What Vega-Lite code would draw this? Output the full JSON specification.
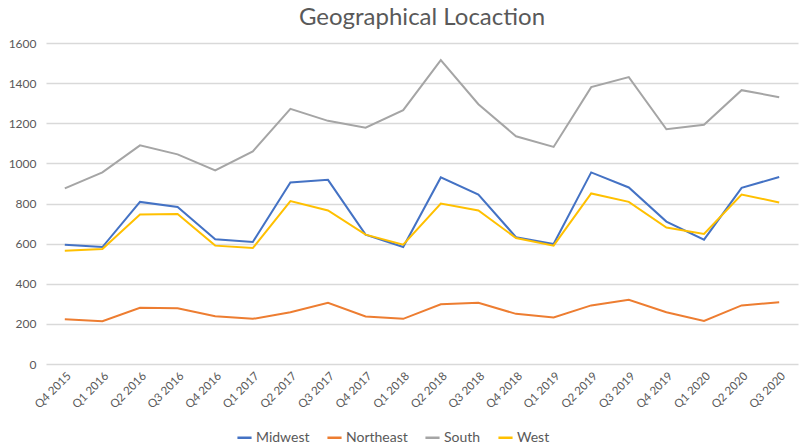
{
  "$schema": "https://vega.github.io/schema/vega-lite/v6.json",
  "width": 800,
  "height": 445,
  "autosize": {"type": "fit", "contains": "padding"},
  "padding": {"left": 8, "right": 2, "top": 6, "bottom": 34},
  "title": {"text": "Geographical Locaction", "font": "Lato", "fontSize": 24, "fontWeight": "normal", "color": "#595959", "offset": 7},
  "config": {"view": {"stroke": null}, "font": "Lato"},
  "data": {"values": [
    {"q":"Q4 2015","Midwest":595,"Northeast":223,"South":875,"West":565},
    {"q":"Q1 2016","Midwest":583,"Northeast":213,"South":955,"West":573},
    {"q":"Q2 2016","Midwest":808,"Northeast":280,"South":1090,"West":745},
    {"q":"Q3 2016","Midwest":783,"Northeast":278,"South":1045,"West":748},
    {"q":"Q4 2016","Midwest":622,"Northeast":238,"South":965,"West":590},
    {"q":"Q1 2017","Midwest":608,"Northeast":225,"South":1060,"West":578},
    {"q":"Q2 2017","Midwest":905,"Northeast":258,"South":1272,"West":812},
    {"q":"Q3 2017","Midwest":918,"Northeast":305,"South":1212,"West":765},
    {"q":"Q4 2017","Midwest":645,"Northeast":237,"South":1178,"West":645},
    {"q":"Q1 2018","Midwest":583,"Northeast":225,"South":1265,"West":595},
    {"q":"Q2 2018","Midwest":930,"Northeast":298,"South":1515,"West":800},
    {"q":"Q3 2018","Midwest":845,"Northeast":305,"South":1295,"West":765},
    {"q":"Q4 2018","Midwest":632,"Northeast":250,"South":1135,"West":628},
    {"q":"Q1 2019","Midwest":598,"Northeast":232,"South":1082,"West":590},
    {"q":"Q2 2019","Midwest":955,"Northeast":292,"South":1380,"West":850},
    {"q":"Q3 2019","Midwest":880,"Northeast":320,"South":1430,"West":808},
    {"q":"Q4 2019","Midwest":710,"Northeast":258,"South":1170,"West":680},
    {"q":"Q1 2020","Midwest":620,"Northeast":215,"South":1192,"West":648},
    {"q":"Q2 2020","Midwest":878,"Northeast":292,"South":1365,"West":845},
    {"q":"Q3 2020","Midwest":932,"Northeast":308,"South":1330,"West":805}
  ]},
  "transform": [{"fold": ["Midwest", "Northeast", "South", "West"], "as": ["region", "value"]}],
  "mark": {"type": "line", "strokeWidth": 2},
  "encoding": {
    "x": {"field": "q", "type": "nominal", "sort": null, "title": null,
      "scale": {"type": "point", "padding": 0.5},
      "axis": {"labelAngle": -45, "labelAlign": "right", "labelBaseline": "top", "labelColor": "#595959", "labelFontSize": 11.5, "domain": false, "ticks": false, "labelPadding": 6}},
    "y": {"field": "value", "type": "quantitative", "title": null,
      "scale": {"domain": [0, 1600]},
      "axis": {"values": [0,200,400,600,800,1000,1200,1400,1600], "format": "d", "labelColor": "#595959", "labelFontSize": 12, "domain": false, "ticks": false, "gridColor": "#d9d9d9", "gridWidth": 1.5, "labelPadding": 10}},
    "color": {"field": "region", "type": "nominal", "title": null,
      "scale": {"domain": ["Midwest", "Northeast", "South", "West"], "range": ["#4472C4", "#ED7D31", "#A5A5A5", "#FFC000"]},
      "legend": {"orient": "none", "legendX": 190, "legendY": 386, "direction": "horizontal", "symbolType": "stroke", "symbolStrokeWidth": 2.5, "symbolSize": 200, "labelFontSize": 14, "labelColor": "#595959", "columnPadding": 12, "labelOffset": 3}}
  }
}
